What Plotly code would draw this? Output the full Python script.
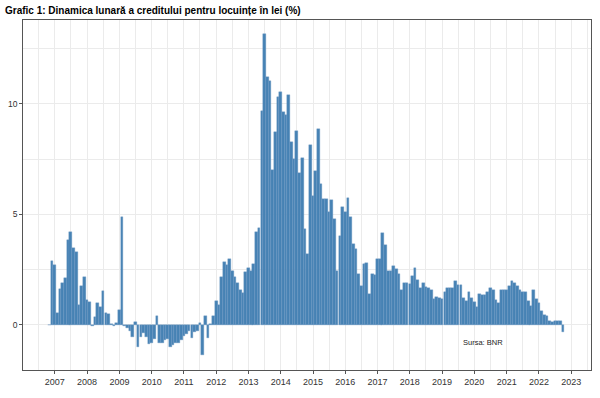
import pandas as pd
import plotly.graph_objects as go

# Monthly dynamics of housing credit in lei (%), Nov 2006 - Oct 2022
months = pd.date_range("2006-11-01", periods=192, freq="MS")

values_2006_2008 = [0.0, 2.91,
                    2.73, 0.55, 1.63, 1.90, 2.11, 3.85, 4.19, 3.48, 3.32, 0.90, 1.77, 2.16,
                    1.14, 1.02, -0.05, 0.38, 0.98, 0.82, 1.55, 0.53, 0.50, 0.02, -0.05, 0.08]
values_2009_2011 = [0.68, 4.87, -0.05, -0.15, -0.27, -0.56, 0.15, -0.98, -0.53, -0.35, -0.53, -0.86,
                    -0.83, -0.65, 0.42, -0.83, -0.83, -0.70, -0.65, -0.98, -0.90, -0.80, -0.83, -0.67,
                    -0.50, -0.42, -0.26, -0.60, -0.33, -0.26, 0.10, -1.35, 0.41, -0.59, 0.03, 0.41]
values_2012_2014 = [1.07, 0.88, 2.19, 2.85, 2.70, 3.00, 2.42, 2.15, 1.92, 1.60, 1.45, 2.40,
                    2.57, 2.45, 2.77, 4.22, 4.37, 9.70, 13.15, 11.20, 11.03, 6.99, 8.74, 10.30,
                    10.55, 9.64, 9.49, 10.40, 8.29, 7.52, 8.77, 6.89, 7.57, 4.35, 3.19, 8.14]
values_2015_2017 = [5.82, 6.98, 8.88, 6.36, 5.72, 5.70, 5.12, 5.65, 4.80, 2.43, 4.02, 5.35,
                    5.09, 5.76, 4.87, 3.68, 3.42, 2.29, 1.76, 2.74, 2.80, 1.39, 2.31, 2.28,
                    2.98, 2.98, 4.18, 3.61, 2.44, 2.44, 2.67, 2.52, 2.30, 1.58, 1.91, 1.91]
values_2018_2020 = [1.84, 2.22, 2.56, 2.02, 1.67, 1.89, 1.70, 1.65, 1.60, 1.16, 1.26, 1.23,
                    1.19, 1.51, 1.65, 1.65, 1.65, 1.99, 1.80, 1.80, 1.24, 1.09, 1.51, 1.21,
                    1.04, 0.81, 1.39, 1.34, 1.34, 1.47, 1.66, 1.60, 1.13, 0.97, 1.60, 1.60]
values_2021_2022 = [1.60, 1.74, 1.99, 1.89, 1.76, 1.57, 1.51, 1.51, 1.09, 0.86, 1.60, 1.16,
                    1.01, 0.61, 0.44, 0.40, 0.20, 0.13, 0.20, 0.20, 0.20, -0.34]

values = (values_2006_2008 + values_2009_2011 + values_2012_2014 +
          values_2015_2017 + values_2018_2020 + values_2021_2022)

title_text = "Grafic 1: Dinamica lunară a creditului pentru locuințe în lei (%)"
source_text = "Sursa: BNR"
year_ticks = [f"{y}-01-01" for y in range(2007, 2024)]
year_labels = [str(y) for y in range(2007, 2024)]
y_ticks = [0, 5, 10]

MONTH_MS = 30.44 * 86400000

fig = go.Figure()
fig.add_trace(go.Bar(
    x=months, y=values,
    width=[1.0 * MONTH_MS] * len(values),
    marker=dict(color="#4682B4", line=dict(width=0.4, color="#6f9bc4")),
    hoverinfo="x+y",
))

grid = "#EBEBEB"
border = "#555555"
FONT = "Liberation Sans, Arial, sans-serif"

fig.update_layout(
    width=600, height=398,
    paper_bgcolor="white", plot_bgcolor="white",
    margin=dict(l=20, r=8, t=20, b=28),
    showlegend=False,
    bargap=0,
    title=dict(text=title_text, x=5 / 600, xref="container", xanchor="left",
               y=1 - 10.5 / 398, yref="container", yanchor="middle",
               font=dict(family=FONT, size=10, color="black", weight="bold")),
    annotations=[dict(text=source_text, xref="paper", yref="paper",
                      x=(483 - 20) / 572, y=(370 - 342) / 350,
                      showarrow=False, xanchor="center", yanchor="middle",
                      font=dict(family=FONT, size=7.5, color="#222222"))],
)

fig.update_xaxes(
    type="date",
    range=["2006-01-06", "2023-08-13"],
    tickmode="array", tickvals=year_ticks, ticktext=year_labels,
    ticks="outside", ticklen=3, tickcolor=border, tickwidth=0.8,
    tickfont=dict(family=FONT, size=9, color="#333333"),
    showgrid=True, gridcolor=grid, gridwidth=1,
    minor=dict(tickmode="array",
               tickvals=[f"{y}-07-02" for y in range(2006, 2024)],
               showgrid=True, gridcolor=grid, gridwidth=0.6, ticks=""),
    showline=True, mirror=True, linecolor=border, linewidth=0.8,
    zeroline=False,
)
fig.update_yaxes(
    range=[-2.04, 13.8],
    tickmode="array", tickvals=y_ticks, ticktext=[str(v) for v in y_ticks],
    ticks="outside", ticklen=3, tickcolor=border, tickwidth=0.8,
    tickfont=dict(family=FONT, size=8.5, color="#333333"),
    showgrid=True, gridcolor=grid, gridwidth=1,
    minor=dict(tickmode="array", tickvals=[2.5, 7.5, 12.5],
               showgrid=True, gridcolor=grid, gridwidth=0.6, ticks=""),
    showline=True, mirror=True, linecolor=border, linewidth=0.8,
    zeroline=False,
)

fig.write_html(
    "out.html",
    config={"displayModeBar": False},
    post_script="document.body.style.margin='0';"
                "document.body.style.overflow='hidden';"
                "document.documentElement.style.overflow='hidden';",
)
